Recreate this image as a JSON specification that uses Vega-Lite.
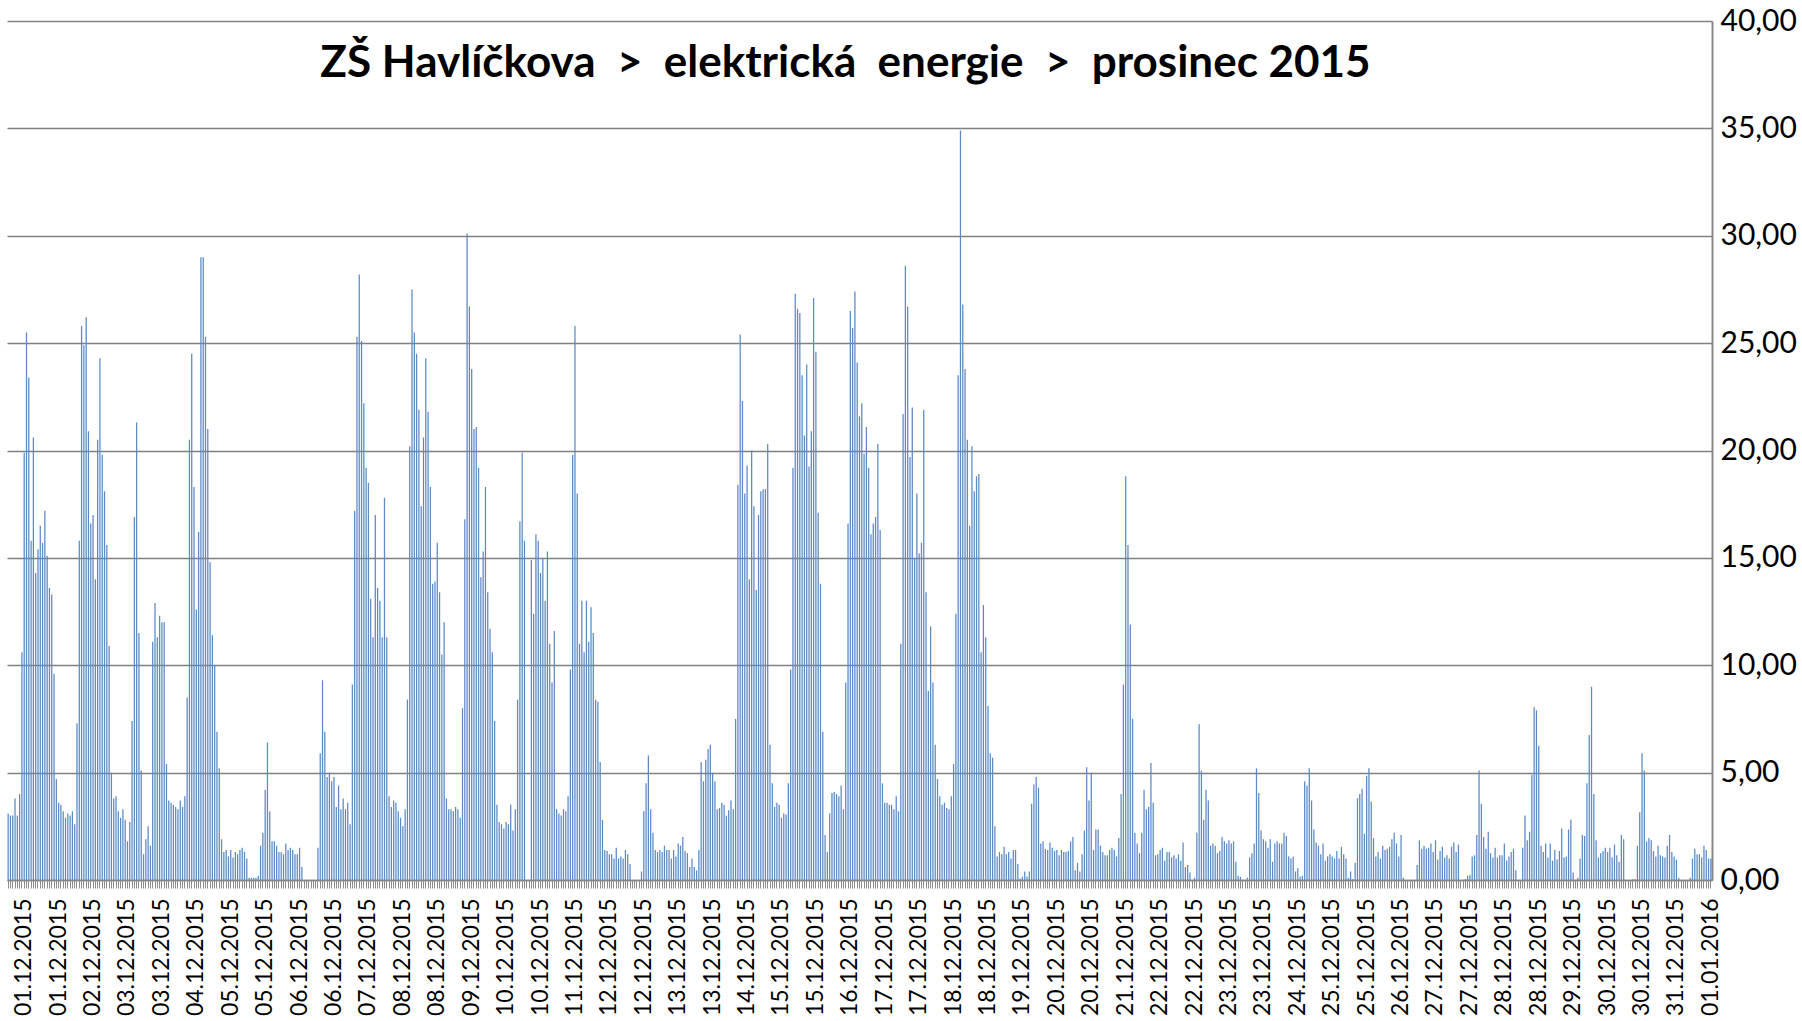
{
"$schema":"https://vega.github.io/schema/vega-lite/v6.json",
"width":1705,"height":859,
"autosize":{"type":"none"},
"padding":{"left":7,"top":21,"right":90,"bottom":141},
"background":"white",
"config":{"view":{"stroke":null},"font":"Lato"},
"title":{"text":"ZŠ Havlíčkova \u00a0>\u00a0 elektrická \u00a0energie \u00a0>\u00a0 prosinec 2015","font":"Lato","fontSize":44,"fontWeight":"bold","color":"black","anchor":"middle","frame":"group","baseline":"alphabetic","offset":-115,"dx":-14},
"data":{"values":[
{"t":"01.12.2015 01:00","v":3.1},{"t":"01.12.2015 02:00","v":3.0},{"t":"01.12.2015 03:00","v":3.0},{"t":"01.12.2015 04:00","v":3.8},{"t":"01.12.2015 05:00","v":3.0},{"t":"01.12.2015 06:00","v":4.0},{"t":"01.12.2015 07:00","v":10.6},{"t":"01.12.2015 08:00","v":19.9},{"t":"01.12.2015 09:00","v":25.5},{"t":"01.12.2015 10:00","v":23.4},{"t":"01.12.2015 11:00","v":15.8},{"t":"01.12.2015 12:00","v":20.6},{"t":"01.12.2015 13:00","v":14.3},{"t":"01.12.2015 14:00","v":15.4},{"t":"01.12.2015 15:00","v":16.5},{"t":"01.12.2015 16:00","v":15.7},{"t":"01.12.2015 17:00","v":17.2},{"t":"01.12.2015 18:00","v":15.1},{"t":"01.12.2015 19:00","v":13.6},{"t":"01.12.2015 20:00","v":13.3},{"t":"01.12.2015 21:00","v":9.6},{"t":"01.12.2015 22:00","v":4.7},{"t":"01.12.2015 23:00","v":3.6},{"t":"02.12.2015 00:00","v":3.5},
{"t":"02.12.2015 01:00","v":3.2},{"t":"02.12.2015 02:00","v":2.9},{"t":"02.12.2015 03:00","v":3.1},{"t":"02.12.2015 04:00","v":3.0},{"t":"02.12.2015 05:00","v":3.2},{"t":"02.12.2015 06:00","v":2.6},{"t":"02.12.2015 07:00","v":7.3},{"t":"02.12.2015 08:00","v":15.8},{"t":"02.12.2015 09:00","v":25.8},{"t":"02.12.2015 10:00","v":24.9},{"t":"02.12.2015 11:00","v":26.2},{"t":"02.12.2015 12:00","v":20.9},{"t":"02.12.2015 13:00","v":16.6},{"t":"02.12.2015 14:00","v":17.0},{"t":"02.12.2015 15:00","v":14.0},{"t":"02.12.2015 16:00","v":20.5},{"t":"02.12.2015 17:00","v":24.3},{"t":"02.12.2015 18:00","v":19.8},{"t":"02.12.2015 19:00","v":18.1},{"t":"02.12.2015 20:00","v":15.6},{"t":"02.12.2015 21:00","v":10.9},{"t":"02.12.2015 22:00","v":5.0},{"t":"02.12.2015 23:00","v":3.8},{"t":"03.12.2015 00:00","v":3.9},
{"t":"03.12.2015 01:00","v":3.2},{"t":"03.12.2015 02:00","v":2.9},{"t":"03.12.2015 03:00","v":3.3},{"t":"03.12.2015 04:00","v":2.8},{"t":"03.12.2015 05:00","v":1.8},{"t":"03.12.2015 06:00","v":2.7},{"t":"03.12.2015 07:00","v":7.4},{"t":"03.12.2015 08:00","v":16.9},{"t":"03.12.2015 09:00","v":21.3},{"t":"03.12.2015 10:00","v":11.5},{"t":"03.12.2015 11:00","v":5.1},{"t":"03.12.2015 12:00","v":1.2},{"t":"03.12.2015 13:00","v":1.9},{"t":"03.12.2015 14:00","v":2.5},{"t":"03.12.2015 15:00","v":1.6},{"t":"03.12.2015 16:00","v":11.1},{"t":"03.12.2015 17:00","v":12.9},{"t":"03.12.2015 18:00","v":11.3},{"t":"03.12.2015 19:00","v":12.3},{"t":"03.12.2015 20:00","v":12.0},{"t":"03.12.2015 21:00","v":12.0},{"t":"03.12.2015 22:00","v":5.4},{"t":"03.12.2015 23:00","v":3.7},{"t":"04.12.2015 00:00","v":3.6},
{"t":"04.12.2015 01:00","v":3.5},{"t":"04.12.2015 02:00","v":3.4},{"t":"04.12.2015 03:00","v":3.3},{"t":"04.12.2015 04:00","v":3.7},{"t":"04.12.2015 05:00","v":3.4},{"t":"04.12.2015 06:00","v":3.9},{"t":"04.12.2015 07:00","v":8.5},{"t":"04.12.2015 08:00","v":20.5},{"t":"04.12.2015 09:00","v":24.5},{"t":"04.12.2015 10:00","v":18.3},{"t":"04.12.2015 11:00","v":12.6},{"t":"04.12.2015 12:00","v":16.2},{"t":"04.12.2015 13:00","v":29.0},{"t":"04.12.2015 14:00","v":29.0},{"t":"04.12.2015 15:00","v":25.3},{"t":"04.12.2015 16:00","v":21.0},{"t":"04.12.2015 17:00","v":14.8},{"t":"04.12.2015 18:00","v":11.4},{"t":"04.12.2015 19:00","v":10.0},{"t":"04.12.2015 20:00","v":6.9},{"t":"04.12.2015 21:00","v":5.2},{"t":"04.12.2015 22:00","v":1.9},{"t":"04.12.2015 23:00","v":1.3},{"t":"05.12.2015 00:00","v":1.4},
{"t":"05.12.2015 01:00","v":1.1},{"t":"05.12.2015 02:00","v":1.4},{"t":"05.12.2015 03:00","v":1.05},{"t":"05.12.2015 04:00","v":1.3},{"t":"05.12.2015 05:00","v":1.2},{"t":"05.12.2015 06:00","v":1.4},{"t":"05.12.2015 07:00","v":1.5},{"t":"05.12.2015 08:00","v":1.3},{"t":"05.12.2015 09:00","v":1.0},{"t":"05.12.2015 10:00","v":0.1},{"t":"05.12.2015 11:00","v":0.1},{"t":"05.12.2015 12:00","v":0.1},{"t":"05.12.2015 13:00","v":0.1},{"t":"05.12.2015 14:00","v":0.2},{"t":"05.12.2015 15:00","v":1.6},{"t":"05.12.2015 16:00","v":2.2},{"t":"05.12.2015 17:00","v":4.2},{"t":"05.12.2015 18:00","v":6.4},{"t":"05.12.2015 19:00","v":3.2},{"t":"05.12.2015 20:00","v":1.8},{"t":"05.12.2015 21:00","v":1.8},{"t":"05.12.2015 22:00","v":1.6},{"t":"05.12.2015 23:00","v":1.3},{"t":"06.12.2015 00:00","v":1.3},
{"t":"06.12.2015 01:00","v":1.2},{"t":"06.12.2015 02:00","v":1.7},{"t":"06.12.2015 03:00","v":1.4},{"t":"06.12.2015 04:00","v":1.5},{"t":"06.12.2015 05:00","v":1.4},{"t":"06.12.2015 06:00","v":1.2},{"t":"06.12.2015 07:00","v":1.2},{"t":"06.12.2015 08:00","v":1.5},{"t":"06.12.2015 09:00","v":0.6},{"t":"06.12.2015 10:00","v":0},{"t":"06.12.2015 11:00","v":0},{"t":"06.12.2015 12:00","v":0},{"t":"06.12.2015 13:00","v":0},{"t":"06.12.2015 14:00","v":0},{"t":"06.12.2015 15:00","v":0},{"t":"06.12.2015 16:00","v":1.5},{"t":"06.12.2015 17:00","v":5.9},{"t":"06.12.2015 18:00","v":9.3},{"t":"06.12.2015 19:00","v":6.9},{"t":"06.12.2015 20:00","v":4.8},{"t":"06.12.2015 21:00","v":5.0},{"t":"06.12.2015 22:00","v":4.6},{"t":"06.12.2015 23:00","v":4.8},{"t":"07.12.2015 00:00","v":3.4},
{"t":"07.12.2015 01:00","v":4.4},{"t":"07.12.2015 02:00","v":3.3},{"t":"07.12.2015 03:00","v":3.8},{"t":"07.12.2015 04:00","v":3.3},{"t":"07.12.2015 05:00","v":3.6},{"t":"07.12.2015 06:00","v":2.6},{"t":"07.12.2015 07:00","v":9.1},{"t":"07.12.2015 08:00","v":17.2},{"t":"07.12.2015 09:00","v":25.3},{"t":"07.12.2015 10:00","v":28.2},{"t":"07.12.2015 11:00","v":25.1},{"t":"07.12.2015 12:00","v":22.2},{"t":"07.12.2015 13:00","v":19.2},{"t":"07.12.2015 14:00","v":18.5},{"t":"07.12.2015 15:00","v":13.1},{"t":"07.12.2015 16:00","v":11.3},{"t":"07.12.2015 17:00","v":17.0},{"t":"07.12.2015 18:00","v":13.6},{"t":"07.12.2015 19:00","v":13.0},{"t":"07.12.2015 20:00","v":11.3},{"t":"07.12.2015 21:00","v":17.8},{"t":"07.12.2015 22:00","v":11.3},{"t":"07.12.2015 23:00","v":3.9},{"t":"08.12.2015 00:00","v":3.4},
{"t":"08.12.2015 01:00","v":3.7},{"t":"08.12.2015 02:00","v":3.6},{"t":"08.12.2015 03:00","v":3.2},{"t":"08.12.2015 04:00","v":2.9},{"t":"08.12.2015 05:00","v":2.5},{"t":"08.12.2015 06:00","v":3.3},{"t":"08.12.2015 07:00","v":8.4},{"t":"08.12.2015 08:00","v":20.2},{"t":"08.12.2015 09:00","v":27.5},{"t":"08.12.2015 10:00","v":25.5},{"t":"08.12.2015 11:00","v":24.5},{"t":"08.12.2015 12:00","v":21.9},{"t":"08.12.2015 13:00","v":17.4},{"t":"08.12.2015 14:00","v":20.6},{"t":"08.12.2015 15:00","v":24.3},{"t":"08.12.2015 16:00","v":21.8},{"t":"08.12.2015 17:00","v":18.3},{"t":"08.12.2015 18:00","v":13.8},{"t":"08.12.2015 19:00","v":13.9},{"t":"08.12.2015 20:00","v":15.7},{"t":"08.12.2015 21:00","v":13.4},{"t":"08.12.2015 22:00","v":10.5},{"t":"08.12.2015 23:00","v":12.0},{"t":"09.12.2015 00:00","v":3.8},
{"t":"09.12.2015 01:00","v":3.3},{"t":"09.12.2015 02:00","v":3.3},{"t":"09.12.2015 03:00","v":3.2},{"t":"09.12.2015 04:00","v":3.4},{"t":"09.12.2015 05:00","v":3.3},{"t":"09.12.2015 06:00","v":2.9},{"t":"09.12.2015 07:00","v":8.0},{"t":"09.12.2015 08:00","v":16.8},{"t":"09.12.2015 09:00","v":30.1},{"t":"09.12.2015 10:00","v":26.7},{"t":"09.12.2015 11:00","v":23.8},{"t":"09.12.2015 12:00","v":21.0},{"t":"09.12.2015 13:00","v":21.1},{"t":"09.12.2015 14:00","v":19.2},{"t":"09.12.2015 15:00","v":14.1},{"t":"09.12.2015 16:00","v":15.3},{"t":"09.12.2015 17:00","v":18.3},{"t":"09.12.2015 18:00","v":13.4},{"t":"09.12.2015 19:00","v":11.7},{"t":"09.12.2015 20:00","v":10.6},{"t":"09.12.2015 21:00","v":7.4},{"t":"09.12.2015 22:00","v":3.5},{"t":"09.12.2015 23:00","v":2.7},{"t":"10.12.2015 00:00","v":2.6},
{"t":"10.12.2015 01:00","v":2.4},{"t":"10.12.2015 02:00","v":2.7},{"t":"10.12.2015 03:00","v":2.6},{"t":"10.12.2015 04:00","v":3.5},{"t":"10.12.2015 05:00","v":2.3},{"t":"10.12.2015 06:00","v":3.3},{"t":"10.12.2015 07:00","v":8.4},{"t":"10.12.2015 08:00","v":16.7},{"t":"10.12.2015 09:00","v":19.9},{"t":"10.12.2015 10:00","v":15.8},{"t":"10.12.2015 11:00","v":0},{"t":"10.12.2015 12:00","v":0},{"t":"10.12.2015 14:00","v":14.9},{"t":"10.12.2015 15:00","v":12.4},{"t":"10.12.2015 16:00","v":16.1},{"t":"10.12.2015 17:00","v":15.8},{"t":"10.12.2015 18:00","v":14.3},{"t":"10.12.2015 19:00","v":15.0},{"t":"10.12.2015 20:00","v":13.0},{"t":"10.12.2015 21:00","v":15.3},{"t":"10.12.2015 22:00","v":11.0},{"t":"10.12.2015 23:00","v":9.2},{"t":"11.12.2015 00:00","v":11.6},
{"t":"11.12.2015 01:00","v":3.3},{"t":"11.12.2015 02:00","v":3.1},{"t":"11.12.2015 03:00","v":3.0},{"t":"11.12.2015 04:00","v":3.3},{"t":"11.12.2015 05:00","v":3.2},{"t":"11.12.2015 06:00","v":3.9},{"t":"11.12.2015 07:00","v":9.8},{"t":"11.12.2015 08:00","v":19.8},{"t":"11.12.2015 09:00","v":25.8},{"t":"11.12.2015 10:00","v":18.0},{"t":"11.12.2015 11:00","v":11.0},{"t":"11.12.2015 12:00","v":13.0},{"t":"11.12.2015 13:00","v":10.6},{"t":"11.12.2015 14:00","v":13.0},{"t":"11.12.2015 15:00","v":11.1},{"t":"11.12.2015 16:00","v":12.7},{"t":"11.12.2015 17:00","v":11.5},{"t":"11.12.2015 18:00","v":8.4},{"t":"11.12.2015 19:00","v":8.3},{"t":"11.12.2015 20:00","v":5.5},{"t":"11.12.2015 21:00","v":2.8},{"t":"11.12.2015 22:00","v":1.4},{"t":"11.12.2015 23:00","v":1.35},{"t":"12.12.2015 00:00","v":1.2},
{"t":"12.12.2015 01:00","v":1.2},{"t":"12.12.2015 02:00","v":1.0},{"t":"12.12.2015 03:00","v":1.5},{"t":"12.12.2015 04:00","v":1.0},{"t":"12.12.2015 05:00","v":1.1},{"t":"12.12.2015 06:00","v":1.0},{"t":"12.12.2015 07:00","v":1.4},{"t":"12.12.2015 08:00","v":1.2},{"t":"12.12.2015 09:00","v":0.75},{"t":"12.12.2015 10:00","v":0},{"t":"12.12.2015 11:00","v":0},{"t":"12.12.2015 12:00","v":0},{"t":"12.12.2015 13:00","v":0},{"t":"12.12.2015 14:00","v":0.4},{"t":"12.12.2015 15:00","v":3.2},{"t":"12.12.2015 16:00","v":4.5},{"t":"12.12.2015 17:00","v":5.8},{"t":"12.12.2015 18:00","v":3.3},{"t":"12.12.2015 19:00","v":2.2},{"t":"12.12.2015 20:00","v":1.4},{"t":"12.12.2015 21:00","v":1.3},{"t":"12.12.2015 22:00","v":1.4},{"t":"12.12.2015 23:00","v":1.3},{"t":"13.12.2015 00:00","v":1.6},
{"t":"13.12.2015 01:00","v":1.4},{"t":"13.12.2015 02:00","v":1.4},{"t":"13.12.2015 03:00","v":1.0},{"t":"13.12.2015 04:00","v":1.4},{"t":"13.12.2015 05:00","v":1.1},{"t":"13.12.2015 06:00","v":1.7},{"t":"13.12.2015 07:00","v":1.6},{"t":"13.12.2015 08:00","v":2.0},{"t":"13.12.2015 09:00","v":1.35},{"t":"13.12.2015 10:00","v":1.25},{"t":"13.12.2015 11:00","v":0.6},{"t":"13.12.2015 12:00","v":1.0},{"t":"13.12.2015 13:00","v":0.6},{"t":"13.12.2015 14:00","v":0.45},{"t":"13.12.2015 15:00","v":1.4},{"t":"13.12.2015 16:00","v":5.5},{"t":"13.12.2015 17:00","v":4.6},{"t":"13.12.2015 18:00","v":5.6},{"t":"13.12.2015 19:00","v":6.1},{"t":"13.12.2015 20:00","v":6.3},{"t":"13.12.2015 21:00","v":5.0},{"t":"13.12.2015 22:00","v":4.6},{"t":"13.12.2015 23:00","v":3.3},{"t":"14.12.2015 00:00","v":3.35},
{"t":"14.12.2015 01:00","v":3.6},{"t":"14.12.2015 02:00","v":3.5},{"t":"14.12.2015 03:00","v":3.0},{"t":"14.12.2015 04:00","v":3.25},{"t":"14.12.2015 05:00","v":3.7},{"t":"14.12.2015 06:00","v":3.3},{"t":"14.12.2015 07:00","v":7.5},{"t":"14.12.2015 08:00","v":18.4},{"t":"14.12.2015 09:00","v":25.4},{"t":"14.12.2015 10:00","v":22.3},{"t":"14.12.2015 11:00","v":18.0},{"t":"14.12.2015 12:00","v":19.3},{"t":"14.12.2015 13:00","v":14.0},{"t":"14.12.2015 14:00","v":20.0},{"t":"14.12.2015 15:00","v":17.4},{"t":"14.12.2015 16:00","v":13.5},{"t":"14.12.2015 17:00","v":17.0},{"t":"14.12.2015 18:00","v":18.1},{"t":"14.12.2015 19:00","v":18.2},{"t":"14.12.2015 20:00","v":18.2},{"t":"14.12.2015 21:00","v":20.3},{"t":"14.12.2015 22:00","v":6.3},{"t":"14.12.2015 23:00","v":4.5},{"t":"15.12.2015 00:00","v":3.4},
{"t":"15.12.2015 01:00","v":3.6},{"t":"15.12.2015 02:00","v":3.5},{"t":"15.12.2015 03:00","v":2.9},{"t":"15.12.2015 04:00","v":3.1},{"t":"15.12.2015 05:00","v":3.05},{"t":"15.12.2015 06:00","v":4.5},{"t":"15.12.2015 07:00","v":9.8},{"t":"15.12.2015 08:00","v":19.2},{"t":"15.12.2015 09:00","v":27.3},{"t":"15.12.2015 10:00","v":26.6},{"t":"15.12.2015 11:00","v":26.4},{"t":"15.12.2015 12:00","v":23.5},{"t":"15.12.2015 13:00","v":20.7},{"t":"15.12.2015 14:00","v":24.0},{"t":"15.12.2015 15:00","v":19.25},{"t":"15.12.2015 16:00","v":20.9},{"t":"15.12.2015 17:00","v":27.1},{"t":"15.12.2015 18:00","v":24.6},{"t":"15.12.2015 19:00","v":17.1},{"t":"15.12.2015 20:00","v":13.8},{"t":"15.12.2015 21:00","v":6.9},{"t":"15.12.2015 22:00","v":2.1},{"t":"15.12.2015 23:00","v":1.3},{"t":"16.12.2015 00:00","v":3.1},
{"t":"16.12.2015 01:00","v":4.05},{"t":"16.12.2015 02:00","v":4.1},{"t":"16.12.2015 03:00","v":4.0},{"t":"16.12.2015 04:00","v":3.9},{"t":"16.12.2015 05:00","v":4.4},{"t":"16.12.2015 06:00","v":3.3},{"t":"16.12.2015 07:00","v":9.2},{"t":"16.12.2015 08:00","v":16.6},{"t":"16.12.2015 09:00","v":26.5},{"t":"16.12.2015 10:00","v":25.7},{"t":"16.12.2015 11:00","v":27.4},{"t":"16.12.2015 12:00","v":24.1},{"t":"16.12.2015 13:00","v":21.6},{"t":"16.12.2015 14:00","v":22.2},{"t":"16.12.2015 15:00","v":19.85},{"t":"16.12.2015 16:00","v":21.1},{"t":"16.12.2015 17:00","v":19.2},{"t":"16.12.2015 18:00","v":16.1},{"t":"16.12.2015 19:00","v":16.6},{"t":"16.12.2015 20:00","v":16.9},{"t":"16.12.2015 21:00","v":20.3},{"t":"16.12.2015 22:00","v":16.3},{"t":"16.12.2015 23:00","v":4.5},{"t":"17.12.2015 00:00","v":3.6},
{"t":"17.12.2015 01:00","v":3.6},{"t":"17.12.2015 02:00","v":3.5},{"t":"17.12.2015 03:00","v":3.5},{"t":"17.12.2015 04:00","v":3.3},{"t":"17.12.2015 05:00","v":3.9},{"t":"17.12.2015 06:00","v":3.2},{"t":"17.12.2015 07:00","v":11.0},{"t":"17.12.2015 08:00","v":21.7},{"t":"17.12.2015 09:00","v":28.6},{"t":"17.12.2015 10:00","v":26.7},{"t":"17.12.2015 11:00","v":19.7},{"t":"17.12.2015 12:00","v":22.0},{"t":"17.12.2015 13:00","v":15.0},{"t":"17.12.2015 14:00","v":18.0},{"t":"17.12.2015 15:00","v":15.2},{"t":"17.12.2015 16:00","v":15.7},{"t":"17.12.2015 17:00","v":21.9},{"t":"17.12.2015 18:00","v":13.4},{"t":"17.12.2015 19:00","v":8.8},{"t":"17.12.2015 20:00","v":11.8},{"t":"17.12.2015 21:00","v":9.2},{"t":"17.12.2015 22:00","v":6.3},{"t":"17.12.2015 23:00","v":4.7},{"t":"18.12.2015 00:00","v":3.9},
{"t":"18.12.2015 01:00","v":3.5},{"t":"18.12.2015 02:00","v":3.6},{"t":"18.12.2015 03:00","v":3.35},{"t":"18.12.2015 04:00","v":3.3},{"t":"18.12.2015 05:00","v":3.9},{"t":"18.12.2015 06:00","v":5.4},{"t":"18.12.2015 07:00","v":12.4},{"t":"18.12.2015 08:00","v":23.5},{"t":"18.12.2015 09:00","v":34.9},{"t":"18.12.2015 10:00","v":26.8},{"t":"18.12.2015 11:00","v":23.8},{"t":"18.12.2015 12:00","v":20.5},{"t":"18.12.2015 13:00","v":16.5},{"t":"18.12.2015 14:00","v":20.2},{"t":"18.12.2015 15:00","v":18.1},{"t":"18.12.2015 16:00","v":18.8},{"t":"18.12.2015 17:00","v":18.9},{"t":"18.12.2015 18:00","v":10.6},{"t":"18.12.2015 19:00","v":12.8},{"t":"18.12.2015 20:00","v":11.3},{"t":"18.12.2015 21:00","v":8.1},{"t":"18.12.2015 22:00","v":5.9},{"t":"18.12.2015 23:00","v":5.7},{"t":"19.12.2015 00:00","v":2.5},
{"t":"19.12.2015 01:00","v":1.1},{"t":"19.12.2015 02:00","v":1.3},{"t":"19.12.2015 03:00","v":1.2},{"t":"19.12.2015 04:00","v":1.55},{"t":"19.12.2015 05:00","v":1.2},{"t":"19.12.2015 06:00","v":1.3},{"t":"19.12.2015 07:00","v":1.0},{"t":"19.12.2015 08:00","v":1.4},{"t":"19.12.2015 09:00","v":1.4},{"t":"19.12.2015 10:00","v":0.75},{"t":"19.12.2015 11:00","v":0.07},{"t":"19.12.2015 12:00","v":0.15},{"t":"19.12.2015 13:00","v":0.4},{"t":"19.12.2015 14:00","v":0.15},{"t":"19.12.2015 15:00","v":0.4},{"t":"19.12.2015 16:00","v":3.55},{"t":"19.12.2015 17:00","v":4.45},{"t":"19.12.2015 18:00","v":4.8},{"t":"19.12.2015 19:00","v":4.3},{"t":"19.12.2015 20:00","v":1.7},{"t":"19.12.2015 21:00","v":1.8},{"t":"19.12.2015 22:00","v":1.45},{"t":"19.12.2015 23:00","v":1.4},{"t":"20.12.2015 00:00","v":1.75},
{"t":"20.12.2015 01:00","v":1.5},{"t":"20.12.2015 02:00","v":1.35},{"t":"20.12.2015 03:00","v":1.4},{"t":"20.12.2015 04:00","v":1.15},{"t":"20.12.2015 05:00","v":1.4},{"t":"20.12.2015 06:00","v":1.3},{"t":"20.12.2015 07:00","v":1.3},{"t":"20.12.2015 08:00","v":1.35},{"t":"20.12.2015 09:00","v":1.8},{"t":"20.12.2015 10:00","v":2.0},{"t":"20.12.2015 11:00","v":0.45},{"t":"20.12.2015 12:00","v":0.8},{"t":"20.12.2015 13:00","v":0.4},{"t":"20.12.2015 14:00","v":1.2},{"t":"20.12.2015 15:00","v":2.3},{"t":"20.12.2015 16:00","v":5.25},{"t":"20.12.2015 17:00","v":3.7},{"t":"20.12.2015 18:00","v":5.0},{"t":"20.12.2015 19:00","v":1.4},{"t":"20.12.2015 20:00","v":2.35},{"t":"20.12.2015 21:00","v":2.35},{"t":"20.12.2015 22:00","v":1.6},{"t":"20.12.2015 23:00","v":1.3},{"t":"21.12.2015 00:00","v":1.15},
{"t":"21.12.2015 01:00","v":1.15},{"t":"21.12.2015 02:00","v":1.4},{"t":"21.12.2015 03:00","v":1.5},{"t":"21.12.2015 04:00","v":1.4},{"t":"21.12.2015 05:00","v":1.1},{"t":"21.12.2015 06:00","v":1.95},{"t":"21.12.2015 07:00","v":4.0},{"t":"21.12.2015 08:00","v":9.1},{"t":"21.12.2015 09:00","v":18.8},{"t":"21.12.2015 10:00","v":15.6},{"t":"21.12.2015 11:00","v":11.9},{"t":"21.12.2015 12:00","v":7.5},{"t":"21.12.2015 13:00","v":2.2},{"t":"21.12.2015 14:00","v":1.7},{"t":"21.12.2015 15:00","v":1.25},{"t":"21.12.2015 16:00","v":2.2},{"t":"21.12.2015 17:00","v":4.2},{"t":"21.12.2015 18:00","v":3.3},{"t":"21.12.2015 19:00","v":3.4},{"t":"21.12.2015 20:00","v":5.45},{"t":"21.12.2015 21:00","v":3.6},{"t":"21.12.2015 22:00","v":1.15},{"t":"21.12.2015 23:00","v":1.2},{"t":"22.12.2015 00:00","v":1.4},
{"t":"22.12.2015 01:00","v":1.5},{"t":"22.12.2015 02:00","v":0.9},{"t":"22.12.2015 03:00","v":1.3},{"t":"22.12.2015 04:00","v":1.3},{"t":"22.12.2015 05:00","v":1.05},{"t":"22.12.2015 06:00","v":1.15},{"t":"22.12.2015 07:00","v":1.0},{"t":"22.12.2015 08:00","v":1.2},{"t":"22.12.2015 09:00","v":0.9},{"t":"22.12.2015 10:00","v":1.75},{"t":"22.12.2015 11:00","v":0.6},{"t":"22.12.2015 12:00","v":0.7},{"t":"22.12.2015 13:00","v":0.35},{"t":"22.12.2015 14:00","v":0},{"t":"22.12.2015 15:00","v":0.1},{"t":"22.12.2015 16:00","v":2.2},{"t":"22.12.2015 17:00","v":7.25},{"t":"22.12.2015 18:00","v":5.1},{"t":"22.12.2015 19:00","v":2.8},{"t":"22.12.2015 20:00","v":4.2},{"t":"22.12.2015 21:00","v":3.7},{"t":"22.12.2015 22:00","v":1.6},{"t":"22.12.2015 23:00","v":1.7},{"t":"23.12.2015 00:00","v":1.6},
{"t":"23.12.2015 01:00","v":1.25},{"t":"23.12.2015 02:00","v":1.35},{"t":"23.12.2015 03:00","v":2.0},{"t":"23.12.2015 04:00","v":1.8},{"t":"23.12.2015 05:00","v":1.7},{"t":"23.12.2015 06:00","v":1.85},{"t":"23.12.2015 07:00","v":1.7},{"t":"23.12.2015 08:00","v":1.8},{"t":"23.12.2015 09:00","v":0.85},{"t":"23.12.2015 10:00","v":0.2},{"t":"23.12.2015 11:00","v":0.15},{"t":"23.12.2015 12:00","v":0},{"t":"23.12.2015 13:00","v":0},{"t":"23.12.2015 14:00","v":0.1},{"t":"23.12.2015 15:00","v":1.05},{"t":"23.12.2015 16:00","v":1.25},{"t":"23.12.2015 17:00","v":1.7},{"t":"23.12.2015 18:00","v":5.2},{"t":"23.12.2015 19:00","v":4.05},{"t":"23.12.2015 20:00","v":2.3},{"t":"23.12.2015 21:00","v":1.9},{"t":"23.12.2015 22:00","v":1.8},{"t":"23.12.2015 23:00","v":1.5},{"t":"24.12.2015 00:00","v":1.9},
{"t":"24.12.2015 01:00","v":0.85},{"t":"24.12.2015 02:00","v":1.7},{"t":"24.12.2015 03:00","v":1.8},{"t":"24.12.2015 04:00","v":1.7},{"t":"24.12.2015 05:00","v":1.7},{"t":"24.12.2015 06:00","v":2.2},{"t":"24.12.2015 07:00","v":2.05},{"t":"24.12.2015 08:00","v":1.1},{"t":"24.12.2015 09:00","v":1.0},{"t":"24.12.2015 10:00","v":1.1},{"t":"24.12.2015 11:00","v":0.4},{"t":"24.12.2015 12:00","v":0.55},{"t":"24.12.2015 13:00","v":0.15},{"t":"24.12.2015 14:00","v":0.2},{"t":"24.12.2015 15:00","v":4.6},{"t":"24.12.2015 16:00","v":4.4},{"t":"24.12.2015 17:00","v":5.2},{"t":"24.12.2015 18:00","v":3.7},{"t":"24.12.2015 19:00","v":2.35},{"t":"24.12.2015 20:00","v":1.75},{"t":"24.12.2015 21:00","v":1.6},{"t":"24.12.2015 22:00","v":1.2},{"t":"24.12.2015 23:00","v":1.7},{"t":"25.12.2015 00:00","v":0.9},
{"t":"25.12.2015 01:00","v":1.1},{"t":"25.12.2015 02:00","v":1.2},{"t":"25.12.2015 03:00","v":1.1},{"t":"25.12.2015 04:00","v":1.0},{"t":"25.12.2015 05:00","v":1.35},{"t":"25.12.2015 06:00","v":1.0},{"t":"25.12.2015 07:00","v":1.55},{"t":"25.12.2015 08:00","v":1.2},{"t":"25.12.2015 09:00","v":1.0},{"t":"25.12.2015 10:00","v":0.1},{"t":"25.12.2015 11:00","v":0.4},{"t":"25.12.2015 12:00","v":0.05},{"t":"25.12.2015 13:00","v":0.8},{"t":"25.12.2015 14:00","v":3.8},{"t":"25.12.2015 15:00","v":4.0},{"t":"25.12.2015 16:00","v":4.25},{"t":"25.12.2015 17:00","v":2.15},{"t":"25.12.2015 18:00","v":4.85},{"t":"25.12.2015 19:00","v":5.2},{"t":"25.12.2015 20:00","v":3.65},{"t":"25.12.2015 21:00","v":1.95},{"t":"25.12.2015 22:00","v":1.1},{"t":"25.12.2015 23:00","v":1.3},{"t":"26.12.2015 00:00","v":1.0},
{"t":"26.12.2015 01:00","v":1.6},{"t":"26.12.2015 02:00","v":1.4},{"t":"26.12.2015 03:00","v":1.45},{"t":"26.12.2015 04:00","v":1.55},{"t":"26.12.2015 05:00","v":1.9},{"t":"26.12.2015 06:00","v":2.2},{"t":"26.12.2015 07:00","v":1.7},{"t":"26.12.2015 08:00","v":1.1},{"t":"26.12.2015 09:00","v":2.1},{"t":"26.12.2015 10:00","v":0.1},{"t":"26.12.2015 11:00","v":0},{"t":"26.12.2015 12:00","v":0},{"t":"26.12.2015 13:00","v":0},{"t":"26.12.2015 14:00","v":0},{"t":"26.12.2015 15:00","v":0},{"t":"26.12.2015 16:00","v":0.7},{"t":"26.12.2015 17:00","v":1.85},{"t":"26.12.2015 18:00","v":1.45},{"t":"26.12.2015 19:00","v":1.6},{"t":"26.12.2015 20:00","v":1.45},{"t":"26.12.2015 21:00","v":1.5},{"t":"26.12.2015 22:00","v":1.7},{"t":"26.12.2015 23:00","v":1.3},{"t":"27.12.2015 00:00","v":1.85},
{"t":"27.12.2015 01:00","v":0.95},{"t":"27.12.2015 02:00","v":1.35},{"t":"27.12.2015 03:00","v":1.55},{"t":"27.12.2015 04:00","v":1.05},{"t":"27.12.2015 05:00","v":1.15},{"t":"27.12.2015 06:00","v":1.0},{"t":"27.12.2015 07:00","v":1.55},{"t":"27.12.2015 08:00","v":1.75},{"t":"27.12.2015 09:00","v":1.3},{"t":"27.12.2015 10:00","v":1.65},{"t":"27.12.2015 11:00","v":0},{"t":"27.12.2015 12:00","v":0},{"t":"27.12.2015 13:00","v":0.05},{"t":"27.12.2015 14:00","v":0.2},{"t":"27.12.2015 15:00","v":0.25},{"t":"27.12.2015 16:00","v":1.1},{"t":"27.12.2015 17:00","v":1.15},{"t":"27.12.2015 18:00","v":2.1},{"t":"27.12.2015 19:00","v":5.1},{"t":"27.12.2015 20:00","v":3.55},{"t":"27.12.2015 21:00","v":2.0},{"t":"27.12.2015 22:00","v":1.45},{"t":"27.12.2015 23:00","v":2.25},{"t":"28.12.2015 00:00","v":1.25},
{"t":"28.12.2015 01:00","v":1.05},{"t":"28.12.2015 02:00","v":1.5},{"t":"28.12.2015 03:00","v":1.05},{"t":"28.12.2015 04:00","v":1.15},{"t":"28.12.2015 05:00","v":1.15},{"t":"28.12.2015 06:00","v":1.7},{"t":"28.12.2015 07:00","v":0.9},{"t":"28.12.2015 08:00","v":1.1},{"t":"28.12.2015 09:00","v":1.3},{"t":"28.12.2015 10:00","v":1.45},{"t":"28.12.2015 11:00","v":0.45},{"t":"28.12.2015 12:00","v":0},{"t":"28.12.2015 13:00","v":0},{"t":"28.12.2015 14:00","v":1.5},{"t":"28.12.2015 15:00","v":3.0},{"t":"28.12.2015 16:00","v":1.85},{"t":"28.12.2015 17:00","v":2.25},{"t":"28.12.2015 18:00","v":4.9},{"t":"28.12.2015 19:00","v":8.05},{"t":"28.12.2015 20:00","v":7.9},{"t":"28.12.2015 21:00","v":6.25},{"t":"28.12.2015 22:00","v":1.6},{"t":"28.12.2015 23:00","v":1.3},{"t":"29.12.2015 00:00","v":1.7},
{"t":"29.12.2015 01:00","v":1.05},{"t":"29.12.2015 02:00","v":1.7},{"t":"29.12.2015 03:00","v":0.9},{"t":"29.12.2015 04:00","v":1.4},{"t":"29.12.2015 05:00","v":0.95},{"t":"29.12.2015 06:00","v":1.35},{"t":"29.12.2015 07:00","v":2.4},{"t":"29.12.2015 08:00","v":1.05},{"t":"29.12.2015 09:00","v":1.1},{"t":"29.12.2015 10:00","v":2.35},{"t":"29.12.2015 11:00","v":2.8},{"t":"29.12.2015 12:00","v":0.35},{"t":"29.12.2015 13:00","v":0},{"t":"29.12.2015 14:00","v":0.1},{"t":"29.12.2015 15:00","v":1.0},{"t":"29.12.2015 16:00","v":2.1},{"t":"29.12.2015 17:00","v":2.05},{"t":"29.12.2015 18:00","v":4.5},{"t":"29.12.2015 19:00","v":6.75},{"t":"29.12.2015 20:00","v":9.0},{"t":"29.12.2015 21:00","v":4.0},{"t":"29.12.2015 22:00","v":1.85},{"t":"29.12.2015 23:00","v":1.05},{"t":"30.12.2015 00:00","v":1.25},
{"t":"30.12.2015 01:00","v":1.35},{"t":"30.12.2015 02:00","v":1.5},{"t":"30.12.2015 03:00","v":1.3},{"t":"30.12.2015 04:00","v":1.5},{"t":"30.12.2015 05:00","v":1.05},{"t":"30.12.2015 06:00","v":1.65},{"t":"30.12.2015 07:00","v":1.15},{"t":"30.12.2015 08:00","v":0.85},{"t":"30.12.2015 09:00","v":2.1},{"t":"30.12.2015 10:00","v":1.9},{"t":"30.12.2015 11:00","v":0},{"t":"30.12.2015 12:00","v":0},{"t":"30.12.2015 13:00","v":0},{"t":"30.12.2015 14:00","v":0.03},{"t":"30.12.2015 15:00","v":0.03},{"t":"30.12.2015 16:00","v":1.6},{"t":"30.12.2015 17:00","v":3.15},{"t":"30.12.2015 18:00","v":5.9},{"t":"30.12.2015 19:00","v":5.1},{"t":"30.12.2015 20:00","v":1.8},{"t":"30.12.2015 21:00","v":1.95},{"t":"30.12.2015 22:00","v":1.85},{"t":"30.12.2015 23:00","v":1.35},{"t":"31.12.2015 00:00","v":1.1},
{"t":"31.12.2015 01:00","v":1.6},{"t":"31.12.2015 02:00","v":1.15},{"t":"31.12.2015 03:00","v":1.1},{"t":"31.12.2015 04:00","v":1.05},{"t":"31.12.2015 05:00","v":1.6},{"t":"31.12.2015 06:00","v":2.1},{"t":"31.12.2015 07:00","v":1.3},{"t":"31.12.2015 08:00","v":1.1},{"t":"31.12.2015 09:00","v":0.95},{"t":"31.12.2015 10:00","v":0.1},{"t":"31.12.2015 11:00","v":0},{"t":"31.12.2015 12:00","v":0},{"t":"31.12.2015 13:00","v":0},{"t":"31.12.2015 14:00","v":0},{"t":"31.12.2015 15:00","v":0.1},{"t":"31.12.2015 16:00","v":1.0},{"t":"31.12.2015 17:00","v":1.45},{"t":"31.12.2015 18:00","v":1.2},{"t":"31.12.2015 19:00","v":1.2},{"t":"31.12.2015 20:00","v":1.05},{"t":"31.12.2015 21:00","v":1.6},{"t":"31.12.2015 22:00","v":1.4},{"t":"31.12.2015 23:00","v":1.0},{"t":"01.01.2016 00:00","v":1.0}
]},
"mark":{"type":"bar","color":"#5B8AC6"},
"encoding":{
"x":{"field":"t","type":"ordinal","sort":null,"scale":{"paddingInner":0.45,"paddingOuter":0.225},
"axis":{"title":null,"labelExpr":"(round(datum.index*742) % 15 == 7) ? slice(datum.value, 0, 10) : ''","labelAngle":270,"labelFont":"Lato","labelFontSize":23,"labelColor":"black","labelPadding":10,"labelOverlap":false,"labelBound":false,"tickSize":8,"tickColor":"#8c8c8c","domainColor":"#868686","domainWidth":1.5,"grid":false}},
"y":{"field":"v","type":"quantitative","scale":{"domain":[0,40],"nice":false},
"axis":{"orient":"right","title":null,"values":[0,5,10,15,20,25,30,35,40],"labelExpr":"replace(format(datum.value,'.2f'),'.',',')","grid":true,"gridColor":"#808080","gridWidth":1.4,"domainColor":"#868686","domainWidth":2,"ticks":false,"labelPadding":8,"labelFont":"Lato","labelFontSize":30,"labelColor":"black"}}
}
}
